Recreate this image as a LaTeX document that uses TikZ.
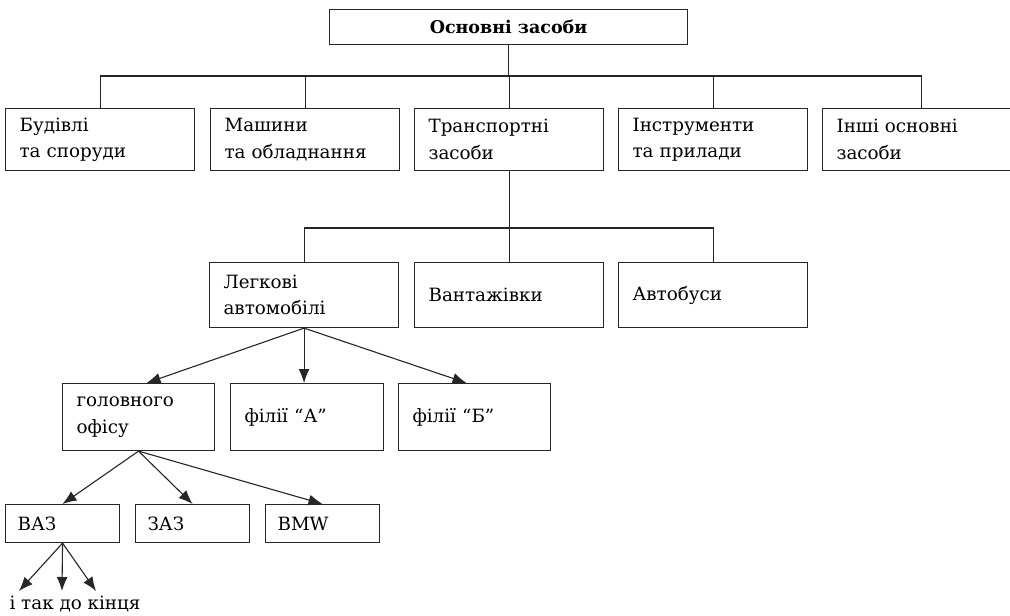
\documentclass[tikz,border=0pt]{standalone}
\usepackage{fontspec}
\setmainfont{DejaVu Serif}
\usetikzlibrary{arrows.meta}
\definecolor{linec}{HTML}{262626}
\begin{document}
\begin{tikzpicture}[x=1pt,y=-1pt,
  ln/.style={draw=linec,line width=1.1pt},
  arr/.style={ln,-{Latex[length=14pt,width=11pt]}},
  bx/.style={draw=linec,line width=1.1pt,rectangle,anchor=north west,inner xsep=14pt,inner ysep=0pt,align=left,font=\fontsize{18.3}{26.5}\selectfont},
  titlebox/.style={draw=linec,line width=1.1pt,rectangle,anchor=north west,inner sep=0pt,font=\fontsize{17.5}{20}\selectfont\bfseries}]
\clip (0,0) rectangle (1010,616);
\fill[white] (0,0) rectangle (1010,616);
% title
\node[titlebox,minimum width=358pt,minimum height=35pt] (top) at (329,9) {Основні засоби};
% row 1
\node[bx,text width=161pt,minimum height=62pt] (b1) at (5,108) {Будівлі\\та споруди};
\node[bx,text width=161pt,minimum height=62pt] (b2) at (210,108) {Машини\\та обладнання};
\node[bx,text width=161pt,minimum height=62pt] (b3) at (414,108) {Транспортні\\засоби};
\node[bx,text width=161pt,minimum height=62pt] (b4) at (618,108) {Інструменти\\та прилади};
\node[bx,text width=170pt,minimum height=62pt] (b5) at (822,108) {Інші основні\\засоби};
\coordinate (bar1) at (508,76);
\draw[ln] (top.south) -- (top.south |- bar1);
\draw[ln] (b1.north) |- (bar1) -| (b5.north);
\draw[ln] (b2.north) -- (b2.north |- bar1);
\draw[ln] (b3.north) -- (b3.north |- bar1);
\draw[ln] (b4.north) -- (b4.north |- bar1);
% row 2
\node[bx,text width=161pt,minimum height=65pt] (l1) at (209,262) {Легкові\\автомобілі};
\node[bx,text width=161pt,minimum height=65pt] (l2) at (414,262) {Вантажівки};
\node[bx,text width=161pt,minimum height=65pt] (l3) at (618,262) {Автобуси};
\coordinate (bar2) at (508,228);
\draw[ln] (b3.south) -- (b3.south |- bar2);
\draw[ln] (l1.north) |- (bar2) -| (l3.north);
\draw[ln] (l2.north) -- (l2.north |- bar2);
% row 3
\node[bx,text width=124pt,minimum height=67pt] (r1) at (62,383) {головного\\офісу};
\node[bx,text width=125pt,minimum height=67pt] (r2) at (230,383) {філії “А”};
\node[bx,text width=124pt,minimum height=67pt] (r3) at (398,383) {філії “Б”};
\draw[arr] (l1.south) -- ([xshift=8pt]r1.north);
\draw[arr] (l1.south) -- (l1.south |- r2.north);
\draw[arr] (l1.south) -- ([xshift=-8pt]r3.north);
% row 4
\node[bx,text width=90pt,minimum height=38pt,inner xsep=12pt] (v1) at (5,504) {ВАЗ};
\node[bx,text width=90pt,minimum height=38pt,inner xsep=12pt] (v2) at (135,504) {ЗАЗ};
\node[bx,text width=90pt,minimum height=38pt,inner xsep=12pt] (v3) at (265,504) {BMW};
\draw[arr] (r1.south) -- (v1.north);
\draw[arr] (r1.south) -- (v2.north);
\draw[arr] (r1.south) -- (v3.north);
% tail
\coordinate (e1) at (19,591);
\coordinate (e2) at (62,591);
\coordinate (e3) at (96,591);
\draw[arr] (v1.south) -- (e1);
\draw[arr] (v1.south) -- (e2);
\draw[arr] (v1.south) -- (e3);
\node[font=\fontsize{18.3}{20}\selectfont,inner sep=0pt] (t) at (75,604) {і так до кінця};
\end{tikzpicture}
\end{document}
